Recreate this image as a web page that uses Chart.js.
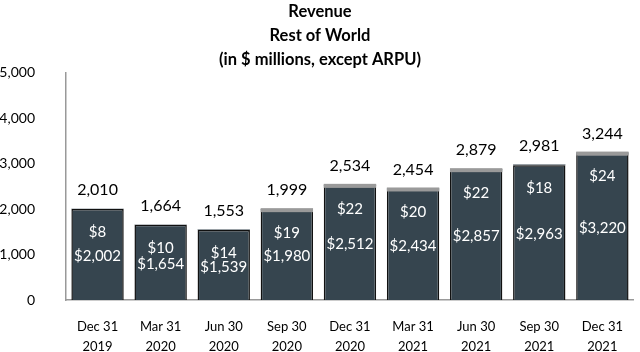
<!DOCTYPE html>
<html>
<head>
<meta charset="utf-8">
<script src="https://cdn.jsdelivr.net/npm/chart.js@4.4.1/dist/chart.umd.min.js"></script>
<style>
  html, body { margin: 0; padding: 0; background: #fff; }
  #wrap { width: 640px; height: 352px; position: relative; }
</style>
</head>
<body>
<div id="wrap"><canvas id="revChart"></canvas></div>
<script>
// data
var categories = [["Dec 31","2019"],["Mar 31","2020"],["Jun 30","2020"],["Sep 30","2020"],["Dec 31","2020"],["Mar 31","2021"],["Jun 30","2021"],["Sep 30","2021"],["Dec 31","2021"]];
var baseRevenue = [2002, 1654, 1539, 1980, 2512, 2434, 2857, 2963, 3220];
var topRevenue = [8, 10, 14, 19, 22, 20, 22, 18, 24];
var totals = [2010, 1664, 1553, 1999, 2534, 2454, 2879, 2981, 3244];
var yTicks = [0, 1000, 2000, 3000, 4000, 5000];

// which bars show the grey cap in the reference
var capColors = [null, null, null, "#9a9a9a", "#9a9a9a", "#9a9a9a", "#9a9a9a", null, "#9a9a9a"];

var FONT = "Lato, 'Open Sans', sans-serif";
var barFill = "#36454f";

function fmt(n){ return n.toLocaleString("en-US"); }

var labelPlugin = {
  id: "barLabels",
  afterDatasetsDraw: function(chart){
    var ctx = chart.ctx;
    var m0 = chart.getDatasetMeta(0);
    var m1 = chart.getDatasetMeta(1);
    ctx.save();
    m0.data.forEach(function(bar, i){
      var top = m1.data[i].y;
      var bottom = bar.base;
      var w = bar.width;
      if (capColors[i]) {
        ctx.fillStyle = capColors[i];
        ctx.fillRect(bar.x - w/2, top - 1, w, 4);
      }
      ctx.textAlign = "center";
      ctx.textBaseline = "middle";
      ctx.fillStyle = "#ffffff";
      ctx.font = "15px " + FONT;
      ctx.fillText("$" + fmt(topRevenue[i]), bar.x, top + 24);
      ctx.fillText("$" + fmt(baseRevenue[i]), bar.x, (top + bottom)/2 + 2);
      ctx.fillStyle = "#000000";
      ctx.font = "16px " + FONT;
      ctx.fillText(fmt(totals[i]), bar.x, top - 19);
    });
    ctx.restore();
  }
};

var ctx = document.getElementById("revChart").getContext("2d");
var revChart = new Chart(ctx, {
  type: "bar",
  data: {
    labels: categories,
    datasets: [{
      data: baseRevenue,
      backgroundColor: barFill,
      borderColor: "#111111",
      borderWidth: 1.5,
      barPercentage: 0.83,
      categoryPercentage: 1
    },{
      data: topRevenue,
      backgroundColor: barFill,
      borderWidth: 0,
      barPercentage: 0.83,
      categoryPercentage: 1
    }]
  },
  options: {
    responsive: true,
    maintainAspectRatio: false,
    animation: false,
    layout: { padding: { left: 0, right: 0, top: 0, bottom: 0 } },
    plugins: {
      legend: { display: false },
      tooltip: { enabled: false },
      title: {
        display: true,
        text: ["Revenue", "Rest of World", "(in $ millions, except ARPU)"],
        color: "#000",
        font: { family: FONT, size: 16.5, weight: "bold", lineHeight: 1.45 },
        padding: { top: 0, bottom: 1 }
      }
    },
    scales: {
      x: {
        stacked: true,
        grid: { display: false, drawTicks: false },
        border: { display: true, color: "#999", width: 1.5 },
        afterFit: function(axis){ axis.height = 52; },
        ticks: { color: "#000", font: { family: FONT, size: 13, lineHeight: 1.55 }, padding: 17, maxRotation: 0 }
      },
      y: {
        stacked: true,
        min: 0,
        max: 5000,
        grid: { display: false, drawTicks: false },
        border: { display: true, color: "#999", width: 1.5 },
        afterBuildTicks: function(axis){ axis.ticks = yTicks.map(function(v){ return { value: v }; }); },
        afterFit: function(axis){ axis.width = 66; },
        ticks: {
          color: "#000",
          padding: 31,
          font: { family: FONT, size: 14 },
          callback: function(v){ return fmt(v); }
        }
      }
    }
  },
  plugins: [labelPlugin]
});
</script>
</body>
</html>
